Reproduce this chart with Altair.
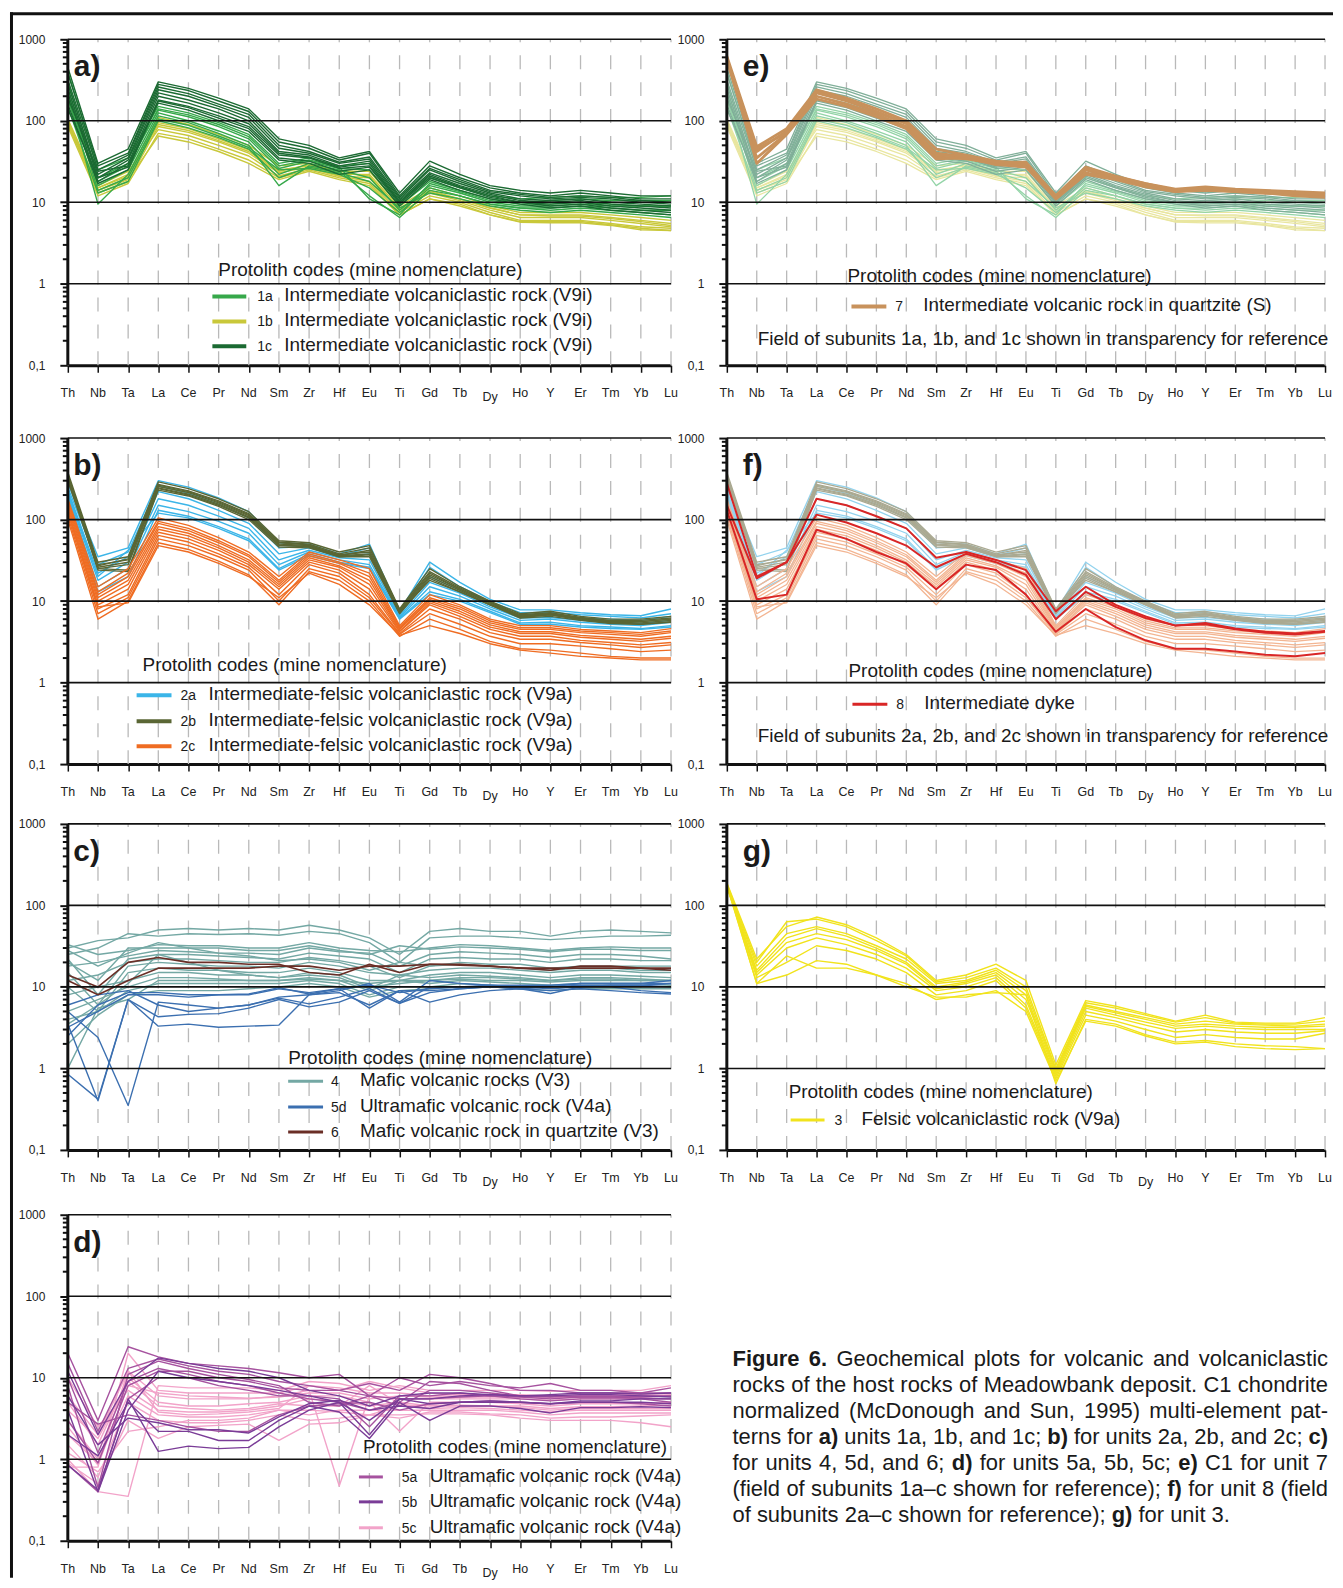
import altair as alt
import pandas as pd

FONT = "Liberation Sans, Arial, Helvetica, sans-serif"

ELEMENTS = ["Th", "Nb", "Ta", "La", "Ce", "Pr", "Nd", "Sm", "Zr", "Hf", "Eu",
            "Ti", "Gd", "Tb", "Dy", "Ho", "Y", "Er", "Tm", "Yb", "Lu"]

Y_TICKS = [0.1, 1, 10, 100, 1000]
MINOR = [0.2, 0.3, 0.4, 0.5, 0.6, 0.7, 0.8, 0.9,
         2, 3, 4, 5, 6, 7, 8, 9,
         20, 30, 40, 50, 60, 70, 80, 90,
         200, 300, 400, 500, 600, 700, 800, 900]
H_LINES = [1, 10, 100, 1000]

# ---------------- unit 1 (panel a, pale in e) ----------------
U1A = [
    [400, 25, 35, 150, 125, 95, 68, 30, 35, 28, 30, 10, 20, 15, 12, 11, 11.5, 12, 11.5, 11.5, 12],
    [300, 20, 30, 135, 112, 85, 60, 26, 32, 26, 25, 9, 18, 14, 11, 10, 10.5, 11, 10.5, 10.5, 10.5],
    [250, 16, 25, 125, 100, 75, 55, 22, 30, 25, 20, 8, 16, 13, 10, 9, 9, 9.5, 9, 9, 9],
    [200, 9.5, 22, 115, 95, 70, 50, 16, 28, 24, 12, 6.5, 14, 12, 9.5, 8.5, 8, 8.5, 8, 7.5, 7],
    [220, 14, 20, 105, 88, 65, 47, 25, 26, 22, 15, 7.5, 15, 12, 9.5, 8.5, 8.5, 9, 8.5, 8, 8],
    [180, 18, 28, 140, 118, 90, 64, 28, 33, 27, 11, 7, 17, 13.5, 10.5, 9.5, 9.5, 10, 9.5, 9, 9],
    [150, 13, 18, 100, 82, 62, 45, 20, 27, 23, 18, 8.5, 13, 11, 9, 8, 7.5, 8, 7.5, 7, 6.5],
]
U1B = [
    [100, 15, 22, 110, 90, 68, 50, 28, 30, 24, 24, 9, 15, 12, 9, 7.5, 7.5, 7.5, 7, 6.5, 6],
    [95, 14, 20, 95, 80, 60, 44, 25, 28, 22, 22, 8.5, 14, 11, 8.5, 7, 7, 7, 6.5, 6, 5.5],
    [90, 13, 18, 85, 72, 55, 40, 23, 27, 21, 20, 8, 13, 10.5, 8, 6.5, 6.5, 6.5, 6, 5.5, 5],
    [105, 16, 24, 78, 66, 50, 37, 21, 26, 21, 18, 7.5, 12, 10, 7.5, 6, 6, 6, 5.5, 5, 4.8],
    [85, 12, 17, 70, 60, 45, 33, 20, 25, 20, 17, 7, 11, 9.5, 7, 5.8, 5.8, 5.8, 5.3, 4.8, 4.5],
    [100, 14, 19, 65, 55, 42, 30, 19, 24, 19, 16, 7, 11, 9, 7, 5.7, 5.6, 5.6, 5.2, 4.6, 4.5],
    [92, 15, 21, 90, 76, 57, 42, 24, 29, 23, 21, 8, 13.5, 11, 8.5, 7, 6.8, 6.8, 6.3, 5.8, 5.2],
]
U1C = [
    [450, 30, 45, 300, 250, 190, 140, 60, 50, 35, 42, 13, 32, 22, 16, 14, 13, 14, 13, 12, 12],
    [380, 28, 40, 280, 235, 175, 130, 55, 46, 33, 40, 12, 28, 20, 15, 13, 12, 13, 12, 11, 11],
    [320, 25, 38, 260, 215, 160, 120, 50, 42, 31, 36, 11.5, 26, 19, 14, 12.5, 11.5, 12, 11.5, 10.5, 10],
    [280, 22, 35, 240, 200, 150, 110, 46, 40, 30, 34, 11, 25, 18, 13.5, 12, 11, 11.5, 11, 10, 9.5],
    [250, 20, 33, 220, 180, 140, 100, 42, 38, 28, 32, 10.5, 23, 17, 13, 11, 10.5, 11, 10, 9.5, 9],
    [220, 18, 30, 200, 165, 125, 92, 40, 36, 27, 30, 10, 22, 16, 12.5, 10.5, 10, 10.5, 9.5, 9, 8.5],
    [190, 24, 28, 180, 150, 115, 85, 38, 35, 26, 28, 10, 21, 15.5, 12, 10, 9.5, 10, 9, 8.5, 8],
    [160, 17, 25, 175, 145, 108, 80, 35, 32, 24, 27, 9.5, 20, 15, 11.5, 10, 9, 9.5, 8.5, 8, 7.5],
    [140, 20, 27, 165, 135, 100, 74, 33, 30, 22, 25, 9, 19, 14, 11, 9.5, 8.5, 9, 8, 7.5, 7],
]
# unit 7 (panel e)
U7 = [
    [620, 48, 80, 240, 190, 140, 100, 45, 38, 32, 30, 12, 27, 21, 17, 14.5, 15.5, 14.5, 14, 13.5, 13],
    [580, 42, 75, 220, 175, 130, 92, 40, 36, 31, 29, 11.5, 25, 20, 16.5, 14, 15, 14, 13.5, 13, 12.5],
    [550, 35, 70, 200, 160, 120, 85, 36, 34, 30, 28, 11, 23, 19.5, 16, 13.5, 14.5, 13.5, 13, 12.5, 12],
    [600, 30, 68, 185, 150, 112, 80, 34, 35, 29, 27, 11, 22, 19, 15.5, 13.5, 14, 13.5, 13, 12, 11.5],
    [570, 45, 72, 230, 180, 128, 95, 38, 37, 31, 31, 12, 26, 20.5, 17, 14, 15, 14, 13.5, 13, 12.5],
]
# ---------------- unit 2 (panel b, pale in f) ----------------
U2A = [
    [280, 35, 45, 300, 250, 185, 125, 52, 50, 38, 50, 7.5, 30, 17, 10.5, 7.8, 7.8, 7.2, 6.8, 6.6, 8],
    [250, 28, 40, 260, 210, 155, 105, 45, 47, 36, 45, 7, 26, 15, 9.8, 7.2, 7.3, 6.8, 6.5, 6.2, 7],
    [230, 22, 35, 220, 180, 130, 90, 38, 45, 35, 38, 6.8, 20, 13.5, 9, 6.8, 6.8, 6.2, 6, 5.8, 6.5],
    [210, 18, 30, 180, 150, 110, 78, 32, 42, 34, 32, 6.5, 17, 12.5, 8.5, 6.2, 6.3, 5.8, 5.5, 5.3, 5.8],
    [200, 15, 25, 150, 125, 95, 68, 28, 40, 32, 28, 6.3, 15, 11.5, 8, 5.8, 6, 5.5, 5.2, 5, 5.5],
    [190, 13, 20, 130, 110, 82, 58, 25, 38, 30, 26, 6.1, 13, 10.5, 7.5, 5.4, 5.5, 5, 4.8, 4.6, 5],
    [220, 20, 42, 120, 105, 78, 55, 24, 36, 29, 25, 6, 12, 10, 7.2, 5.2, 5.2, 4.8, 4.6, 4.5, 4.8],
]
U2B = [
    [380, 30, 35, 290, 240, 180, 125, 55, 52, 40, 48, 8, 25, 15, 10, 7, 7.5, 6.5, 6, 6, 6.5],
    [350, 28, 32, 270, 225, 170, 118, 53, 50, 38, 45, 7.8, 23, 14.5, 9.7, 6.8, 7.2, 6.3, 5.8, 5.8, 6.2],
    [330, 26, 30, 255, 215, 160, 112, 50, 48, 37, 40, 7.5, 21, 14, 9.5, 6.6, 7, 6.1, 5.6, 5.6, 6],
    [300, 25, 24, 240, 200, 150, 105, 48, 47, 36, 38, 7.3, 20, 13.5, 9.2, 6.4, 6.8, 6, 5.5, 5.4, 5.8],
    [320, 24, 23, 230, 195, 145, 100, 46, 45, 35, 35, 7, 19, 13, 9, 6.2, 6.5, 5.8, 5.3, 5.2, 5.6],
    [360, 27, 33, 265, 220, 165, 115, 52, 49, 36, 42, 7.6, 22, 14, 9.5, 6.5, 7, 6.2, 5.7, 5.6, 6],
    [340, 25, 28, 245, 205, 155, 108, 49, 46, 35, 37, 7.2, 18, 13, 9, 6.3, 6.8, 5.9, 5.4, 5.2, 5.5],
]
U2C = [
    [180, 15, 25, 105, 85, 60, 40, 20, 40, 32, 25, 5, 12, 9, 6, 5, 5, 4.5, 4.3, 4.1, 4.6],
    [170, 13, 22, 95, 78, 55, 37, 18, 38, 30, 22, 4.8, 11, 8.5, 5.7, 4.7, 4.7, 4.3, 4.1, 3.9, 4.3],
    [160, 12, 20, 90, 73, 52, 35, 17, 36, 29, 20, 4.6, 10.5, 8, 5.4, 4.5, 4.5, 4.1, 3.9, 3.7, 4.1],
    [150, 11, 18, 82, 68, 48, 32, 16, 34, 27, 18, 4.5, 10, 7.5, 5.1, 4.2, 4.2, 3.8, 3.6, 3.4, 3.7],
    [140, 10, 16, 76, 63, 45, 30, 15, 32, 26, 16, 4.3, 9.5, 7, 4.8, 4, 4, 3.6, 3.4, 3.2, 3.5],
    [130, 9, 14, 70, 58, 42, 28, 14, 30, 24, 14, 4.2, 9, 6.5, 4.5, 3.7, 3.7, 3.3, 3.1, 2.9, 3.1],
    [120, 8, 12, 64, 53, 38, 26, 12, 28, 22, 12, 4, 8, 6, 4.1, 3.4, 3.4, 3.1, 2.9, 2.7, 2.9],
    [110, 7, 11, 58, 48, 35, 24, 10, 25, 20, 11, 3.9, 7, 5.2, 3.7, 3, 3, 2.8, 2.6, 2.4, 2.5],
    [100, 6, 10, 52, 43, 31, 21, 9, 23, 18, 10, 3.7, 6, 4.5, 3.2, 2.6, 2.5, 2.3, 2.1, 2, 2],
    [125, 8.5, 9.5, 48, 40, 29, 20, 11, 22, 16, 9, 3.8, 5, 4, 3, 2.5, 2.3, 2.1, 2, 1.9, 1.9],
]
# unit 8 (panel f)
U8 = [
    [280, 20, 30, 180, 150, 110, 78, 34, 40, 32, 24, 7.5, 15, 9, 6.5, 5, 5.4, 4.6, 4.2, 4.0, 4.3],
    [150, 19, 30, 115, 92, 68, 48, 26, 38, 30, 21, 6, 13, 8.5, 6.2, 5, 5.2, 4.5, 4.1, 3.9, 4.2],
    [130, 10.5, 12, 75, 58, 40, 29, 14, 28, 24, 12, 4.2, 8, 4.8, 3.3, 2.6, 2.6, 2.4, 2.2, 2.1, 2.3],
]
# ---------------- panel c ----------------
U4 = [
    [30, 37, 40, 50, 52, 50, 52, 50, 57, 50, 40, 25, 48, 52, 48, 48, 42, 48, 50, 48, 46],
    [25, 30, 45, 42, 45, 44, 45, 43, 48, 45, 35, 20, 40, 42, 42, 40, 38, 40, 42, 42, 43],
    [33, 25, 28, 33, 32, 32, 30, 30, 35, 30, 28, 27, 30, 33, 32, 30, 28, 30, 31, 30, 30],
    [20, 12, 30, 30, 30, 30, 28, 28, 32, 28, 25, 32, 29, 31, 30, 29, 27, 29, 29, 28, 28],
    [18, 20, 24, 28, 27, 26, 26, 25, 30, 27, 26, 18, 25, 27, 26, 25, 23, 25, 25, 24, 22],
    [22, 8, 22, 25, 25, 24, 23, 22, 26, 24, 22, 15, 22, 23, 22, 22, 20, 22, 22, 21, 21],
    [12, 14, 20, 22, 22, 21, 20, 20, 23, 21, 18, 13, 18, 20, 19, 19, 17, 18, 18, 18, 18],
    [15, 6, 18, 20, 19, 18, 18, 17, 20, 18, 15, 14, 16, 17, 17, 16, 15, 16, 16, 15, 15],
    [10, 5, 15, 17, 16, 16, 15, 15, 17, 15, 12, 12, 14, 15, 15, 14, 13, 14, 14, 13.5, 13],
    [8, 10, 12, 15, 15, 14, 14, 13, 15, 14, 10, 11, 12, 13, 13, 12.5, 12, 12.5, 12.5, 12, 12],
    [5, 7, 10, 13, 13, 12.5, 12, 12, 13, 12, 9, 12, 11, 12, 11.5, 11, 10.5, 11, 11, 11, 10.5],
    [4, 5, 9, 11, 11, 11, 11, 11, 12, 11, 8, 10, 10, 11, 10.5, 10, 10, 10, 10, 10, 10],
    [3.5, 6, 11, 25, 20, 16, 14, 13, 14, 13, 9.5, 14, 13, 14, 13.5, 13, 12, 13, 13, 12.5, 12],
    [28, 18, 26, 35, 30, 26, 24, 21, 22, 20, 16, 20, 18, 19, 18, 17, 16, 17, 17, 16, 16],
    [2, 4.5, 8, 9, 9, 9, 9.5, 10, 11, 10, 7.5, 9, 9.5, 10, 10, 9.5, 9, 9.5, 9.5, 9.5, 9.5],
    [1, 5.5, 7, 12, 12, 12, 12, 12, 12.5, 12, 11, 12, 12, 12.5, 12, 12, 11.5, 12, 12, 12, 12],
]
U5D = [
    [5, 2.4, 0.35, 6.5, 6, 5.5, 6, 7.5, 8, 9, 11, 6.5, 12, 11, 10.5, 10, 10, 11, 11, 11, 12],
    [3.5, 0.4, 7, 3.3, 3.5, 3.2, 3.3, 3.4, 8, 8.5, 6, 9, 9, 9.5, 10, 9.5, 8.3, 10, 10, 9, 8.5],
    [0.85, 0.42, 7, 4.3, 4.6, 4.7, 5.5, 7, 5.7, 6.5, 9, 6.3, 10, 10, 10, 9.5, 10, 10.5, 10.5, 10.5, 10],
    [3.2, 5, 8, 8, 7.5, 8, 8, 9.5, 8.5, 9.5, 5.5, 9, 6.5, 8, 9, 9.5, 9, 9.5, 9, 8.5, 8.2],
    [6, 8, 9, 6, 5, 5.5, 6, 7.3, 6.2, 7.5, 9.5, 6.3, 8.5, 9.5, 10, 10, 9.5, 10, 10.5, 10.5, 11],
    [2.5, 6, 8.5, 8.5, 8, 8, 8.2, 9.8, 8.2, 9.5, 10.5, 8.5, 9.5, 10, 10.5, 10.5, 10.5, 11, 11, 11, 11],
]
U6 = [
    [14, 10, 20, 23, 20, 20, 19, 19, 15, 14, 19, 15, 19, 19, 18, 17, 16, 18, 18, 17, 17],
    [12, 8, 12, 17, 17, 17, 17, 18, 18, 16, 18, 18, 19, 18.5, 18, 17, 17, 17, 17, 17, 16],
]
# ---------------- panel g ----------------
U3 = [
    [190, 22, 55, 72, 58, 40, 25, 12, 14, 19, 12, 1.1, 6.8, 5.8, 4.7, 3.8, 4.5, 3.7, 3.6, 3.6, 4.2],
    [185, 20, 63, 68, 55, 37, 24, 11.5, 13, 17, 10, 1.0, 6.4, 5.5, 4.5, 3.7, 4.2, 3.6, 3.5, 3.5, 3.8],
    [180, 18, 45, 55, 45, 32, 22, 11, 12, 16, 9, 0.95, 6, 5, 4.2, 3.5, 3.8, 3.5, 3.4, 3.3, 3.5],
    [175, 16, 40, 52, 42, 30, 20, 10, 11.5, 15, 8, 0.9, 5.8, 4.8, 4, 3.3, 3.5, 3.3, 3.2, 3.2, 3.3],
    [180, 15, 35, 45, 38, 28, 19, 9.5, 11, 14, 7, 0.85, 5.5, 4.5, 3.7, 3.1, 3.3, 3.1, 3, 3, 3],
    [170, 14, 30, 40, 33, 25, 17, 9, 10, 13, 6, 0.8, 5, 4.2, 3.4, 2.8, 3, 2.8, 2.7, 2.7, 2.9],
    [178, 13, 20, 32, 28, 22, 15, 8, 9, 12, 5.5, 0.75, 4.5, 3.8, 3, 2.4, 2.6, 2.4, 2.3, 2.3, 2.7],
    [175, 11, 14, 21, 19, 14, 11, 7, 8, 8.5, 8, 0.65, 4, 3.5, 2.6, 2.1, 2.2, 2.0, 1.9, 1.85, 1.75],
    [182, 11, 24, 17, 17, 14, 10, 7.5, 7.5, 9, 5, 0.7, 3.8, 3.3, 2.5, 2, 2.1, 1.85, 1.75, 1.7, 1.75],
]
# ---------------- panel d ----------------
U5A = [
    [20, 3, 24, 18, 15, 14, 13, 11.5, 10, 11, 6, 10, 8, 9, 8, 7.5, 8.5, 7, 7, 6.5, 7.5],
    [15, 2.2, 13, 17, 14, 12, 11, 9, 8, 7, 8.5, 7, 11, 10, 8.5, 7, 7, 6.5, 6.5, 6.5, 6.5],
    [10, 1.2, 9, 13, 11, 9, 8, 6.5, 5.5, 5, 4, 5, 9, 8.5, 7, 6, 6, 5.8, 5.8, 5.6, 5.5],
    [0.85, 0.4, 5.5, 10, 10, 8, 7, 6, 6, 5.5, 2.5, 6, 6, 6.5, 6, 5.5, 5.2, 5.5, 5.5, 5.5, 5],
    [8, 0.45, 11, 16, 13, 11, 9.5, 8, 5, 4.5, 6, 4.5, 7, 7, 6.5, 6, 5.8, 6, 6, 5.8, 6],
    [5, 2.7, 3.5, 3, 2.5, 2.2, 2.2, 3.5, 4.5, 4.8, 5, 4, 4.8, 5, 5.2, 5, 4.8, 5, 5, 4.8, 4.5],
    [3, 0.9, 8, 12, 12, 10, 9, 7.5, 7, 7, 6, 5.5, 5.5, 5.8, 6, 5.8, 5.5, 5.8, 5.8, 6, 6],
]
U5B = [
    [0.85, 0.42, 5.5, 1.25, 1.45, 1.35, 1.4, 2.5, 4, 5, 2.0, 5.5, 4.8, 5, 5.2, 5, 4.8, 5, 5, 5, 4.8],
    [2, 1.1, 5, 2.2, 2.2, 1.7, 1.7, 3, 4.5, 3.8, 1.8, 5, 3, 4.5, 4.5, 4.2, 3.7, 4.3, 4.3, 4.4, 4.3],
    [4, 0.4, 4, 12, 10, 9, 8, 7, 6, 5, 3, 5.5, 5.5, 6, 6.2, 6, 6, 6.2, 6.2, 6, 5.8],
    [12, 2, 9, 17.5, 15, 13, 12, 10, 7, 6, 4.5, 6, 6.5, 6.5, 6.2, 6, 6.2, 6.5, 6.5, 6.3, 6.5],
    [6, 1.5, 3.2, 2.8, 2.3, 2.3, 2.1, 3.3, 4.8, 5.3, 4, 4.5, 4.2, 5, 5, 5, 4.8, 5.2, 5.2, 5.5, 5.5],
]
U5C = [
    [1, 0.4, 0.35, 8, 7.5, 7.5, 7.5, 7, 9, 8.5, 7, 8, 7, 7, 7, 7, 6.8, 7, 7, 7, 8],
    [0.8, 0.8, 20, 7, 6.5, 6.5, 6.5, 6.5, 8, 7.5, 6.5, 6.5, 6, 6, 6.2, 6.2, 6, 6.2, 6.2, 6.2, 6.5],
    [2, 0.9, 12, 6, 5.5, 5.5, 5.5, 6, 7, 0.47, 6, 5.5, 5.5, 5.5, 5.5, 5.5, 5.3, 5.5, 5.5, 5.5, 5.5],
    [5, 1.5, 10, 5, 4.5, 4.5, 4.8, 5, 6, 6, 5, 2.2, 5, 5, 5, 4.8, 4.5, 4.8, 4.8, 4.8, 5],
    [10, 2.5, 7, 4, 3.8, 3.8, 4, 4.5, 5.5, 5.2, 4.5, 5, 4.5, 4.5, 4.5, 4.3, 4, 4.2, 4.2, 4.2, 4.2],
    [3, 1, 6, 3.5, 3.3, 3.3, 3.5, 4, 3.5, 4, 4, 4, 4, 4, 4, 3.8, 3.5, 3.7, 3.7, 3.7, 3.7],
    [1.5, 0.6, 5, 3, 2.8, 2.8, 3, 3.5, 3, 3.2, 3.5, 3.5, 3.6, 3.6, 3.5, 3.2, 3, 3, 3, 2.8, 2.5],
    [0.9, 0.5, 3, 1.8, 2.5, 2.6, 2.7, 1.7, 2.7, 2.8, 3.5, 3.2, 3.8, 3.8, 3.6, 3.5, 3.2, 3.3, 3.3, 3.4, 3.5],
    [2.5, 0.85, 8, 6.5, 6, 5.8, 5.6, 5.8, 6.5, 6.5, 5.5, 6, 5.8, 5.8, 5.8, 5.8, 5.6, 5.8, 5.8, 5.8, 6],
    [4, 1.8, 9, 4.5, 4.2, 4, 4.2, 4.8, 4.5, 4.5, 8, 4.8, 4.2, 4.3, 4.2, 4, 3.8, 4, 4, 4, 4],
    [1.2, 0.7, 2.2, 2.5, 3, 3, 3.2, 4, 4, 3.8, 3.5, 4.5, 4.6, 4.6, 4.5, 4.5, 4.2, 4.4, 4.4, 4.5, 4.6],
    [6, 2, 12, 3.8, 3.5, 3.6, 3.8, 4.2, 8, 7, 9, 7.5, 6.5, 6.2, 6.2, 6, 5.8, 6, 6, 6, 6.2],
]

# colours
C1A, C1B, C1C = "#36a84a", "#c9c83a", "#1b6a32"
P1A, P1B, P1C = "#93d4a7", "#e9e6a0", "#80af99"
C7 = "#c8925c"
C2A, C2B, C2C = "#3bb5e8", "#5a6634", "#ef6c22"
P2A, P2B, P2C = "#93d3ee", "#aaa991", "#f3b592"
C8 = "#d92626"
C4, C5D, C6 = "#74a8a4", "#3b6fb0", "#6a2e26"
C3 = "#f1e31c"
C5A, C5B, C5C = "#a6529f", "#7a3c97", "#f2a3c9"

HEAD = "Protolith codes (mine nomenclature)"
ONE = alt.Data(values=[{"k": 0}])
INK = "#1a1a1a"
PLOT_H = 327
DECADE = 81.75


def long_form(rows, tag):
    recs = []
    for si, row in enumerate(rows):
        for i, (el, v) in enumerate(zip(ELEMENTS, row)):
            recs.append({"s": f"{tag}{si}", "el": el, "i": i, "v": v})
    return pd.DataFrame(recs)


def txt(s, x, y, size, bold=False, align="left", baseline="alphabetic"):
    return alt.Chart(ONE).mark_text(
        text=s, align=align, baseline=baseline, fontSize=size, font=FONT,
        fontWeight="bold" if bold else "normal", color=INK
    ).encode(x=alt.value(x), y=alt.value(y))


def hseg(x1, x2, y, color, w):
    return alt.Chart(ONE).mark_rule(color=color, strokeWidth=w).encode(
        x=alt.value(x1), x2=alt.value(x2), y=alt.value(y))


def vseg(x, y1, y2, color, w):
    return alt.Chart(ONE).mark_rule(color=color, strokeWidth=w).encode(
        x=alt.value(x), y=alt.value(y1), y2=alt.value(y2))


def panel(label, label_x, ext, width, groups, legend, note=None, border=False):
    top_val = 1000 * 10 ** (ext / DECADE)
    yscale = alt.Scale(type="log", domain=[0.1, top_val], nice=False)
    xscale = alt.Scale(type="point", domain=ELEMENTS, padding=0)
    xaxis = alt.Axis(labels=False, title=None, ticks=True, tickSize=7, tickWidth=1.5,
                     tickColor="#111", domainColor="#111", domainWidth=3, grid=False)
    yaxis = alt.Axis(values=Y_TICKS, title=None, domain=False, grid=False,
                     labelExpr="datum.value < 0.5 ? '0,1' : format(datum.value, 'd')",
                     tickSize=8, tickWidth=2, tickColor="#111", labelFontSize=12,
                     labelFont=FONT, labelColor="#222", labelPadding=15)

    def X(f):
        return alt.X(f, type="nominal", scale=xscale, sort=ELEMENTS, axis=xaxis)

    def Y(f):
        return alt.Y(f, type="quantitative", scale=yscale, axis=yaxis)

    layers = []
    vd = pd.DataFrame({"el": ELEMENTS, "lo": 0.1, "hi": 1000})
    layers.append(alt.Chart(vd).mark_rule(color="#b9b9b9", strokeWidth=1.3, strokeDash=[14, 13])
                  .encode(x=X("el"), y=Y("lo"), y2=alt.Y2("hi")))
    for rows, color, w, tag in groups:
        df = long_form(rows, tag)
        layers.append(alt.Chart(df).mark_line(color=color, strokeWidth=w, strokeJoin="round")
                      .encode(x=X("el"), y=Y("v"), detail=alt.Detail("s:N"), order=alt.Order("i:Q")))
    layers.append(alt.Chart(pd.DataFrame({"v": H_LINES})).mark_rule(color="#111", strokeWidth=1.6)
                  .encode(x=alt.value(0), x2=alt.value(width), y=Y("v")))
    layers.append(alt.Chart(pd.DataFrame({"v": MINOR})).mark_rule(color="#111", strokeWidth=2)
                  .encode(x=alt.value(-5), x2=alt.value(0), y=Y("v")))
    layers.append(alt.Chart(pd.DataFrame({"lo": [0.1], "hi": [1000]})).mark_rule(color="#111", strokeWidth=3)
                  .encode(x=alt.value(0), y=Y("lo"), y2=alt.Y2("hi")))
    base = PLOT_H + ext
    xl = pd.DataFrame({"el": [e for e in ELEMENTS if e != "Dy"]})
    layers.append(alt.Chart(xl).mark_text(font=FONT, fontSize=12.5, color="#222", baseline="middle")
                  .encode(x=X("el"), y=alt.value(base + 28), text="el:N"))
    layers.append(alt.Chart(pd.DataFrame({"el": ["Dy"]})).mark_text(font=FONT, fontSize=12.5, color="#222",
                                                                    baseline="middle")
                  .encode(x=X("el"), y=alt.value(base + 32), text="el:N"))

    # legend
    hx, hy = legend["head"]
    layers.append(txt(HEAD, hx, hy + ext, 19))
    lx1, lx2, lw = legend["line"]
    for color, code, desc, by in legend["rows"]:
        layers.append(hseg(lx1, lx2, by + ext - 5, color, lw))
        layers.append(txt(code, legend["code_x"], by + ext, 14))
        layers.append(txt(desc, legend["desc_x"], by + ext, 19))
    if note:
        layers.append(txt(note[0], note[1], note[2] + ext, 19))
    layers.append(txt(label, label_x, 37 + ext, 30, bold=True))
    if border:
        layers.append(hseg(-58, 1269, -25.5, "#111", 3))
        layers.append(vseg(-56.5, -27, 1543, "#111", 3))
    return alt.layer(*layers).properties(width=width, height=PLOT_H + ext)


LW = 605
RW = 600

A = panel("a)", 6, 0, LW,
          [(U1B, C1B, 1.4, "b"), (U1A, C1A, 1.4, "a"), (U1C, C1C, 1.4, "c")],
          {"head": (151, 237), "line": (145, 179, 4), "code_x": 190, "desc_x": 217,
           "rows": [(C1A, "1a", "Intermediate volcaniclastic rock (V9i)", 263),
                    (C1B, "1b", "Intermediate volcaniclastic rock (V9i)", 288),
                    (C1C, "1c", "Intermediate volcaniclastic rock (V9i)", 313)]},
          border=True)

E = panel("e)", 16, 0, RW,
          [(U1B, P1B, 1.3, "b"), (U1A, P1A, 1.3, "a"), (U1C, P1C, 1.3, "c"), (U7, C7, 2.8, "s")],
          {"head": (121, 243), "line": (125, 160, 4), "code_x": 169, "desc_x": 197,
           "rows": [(C7, "7", "Intermediate volcanic rock in quartzite (S)", 273)]},
          note=("Field of subunits 1a, 1b, and 1c shown in transparency for reference", 31, 307))

B = panel("b)", 5.5, 13, LW,
          [(U2A, C2A, 1.4, "a"), (U2B, C2B, 1.4, "b"), (U2C, C2C, 1.4, "c")],
          {"head": (75, 234), "line": (69, 104, 4), "code_x": 113, "desc_x": 141,
           "rows": [(C2A, "2a", "Intermediate-felsic volcaniclastic rock (V9a)", 263),
                    (C2B, "2b", "Intermediate-felsic volcaniclastic rock (V9a)", 289),
                    (C2C, "2c", "Intermediate-felsic volcaniclastic rock (V9a)", 314)]})

F = panel("f)", 16, 13, RW,
          [(U2A, P2A, 1.3, "a"), (U2B, P2B, 1.3, "b"), (U2C, P2C, 1.3, "c"), (U8, C8, 2, "d")],
          {"head": (122, 240), "line": (126, 161, 3), "code_x": 170, "desc_x": 198,
           "rows": [(C8, "8", "Intermediate dyke", 272)]},
          note=("Field of subunits 2a, 2b, and 2c shown in transparency for reference", 31, 305))

C = panel("c)", 5.5, 0, LW,
          [(U4, C4, 1.4, "m"), (U5D, C5D, 1.4, "u"), (U6, C6, 1.6, "q")],
          {"head": (221, 241), "line": (221, 256, 3), "code_x": 264, "desc_x": 293,
           "rows": [(C4, "4", "Mafic volcanic rocks (V3)", 263),
                    (C5D, "5d", "Ultramafic volcanic rock (V4a)", 289),
                    (C6, "6", "Mafic volcanic rock in quartzite (V3)", 314)]})

G = panel("g)", 16, 0, RW,
          [(U3, C3, 1.4, "f")],
          {"head": (62, 275), "line": (64, 98, 3), "code_x": 108, "desc_x": 135,
           "rows": [(C3, "3", "Felsic volcaniclastic rock (V9a)", 302)]})

D = panel("d)", 5.5, 5, LW,
          [(U5C, C5C, 1.4, "c"), (U5A, C5A, 1.4, "a"), (U5B, C5B, 1.4, "b")],
          {"head": (296, 239), "line": (292, 316, 3), "code_x": 335, "desc_x": 363,
           "rows": [(C5A, "5a", "Ultramafic volcanic rock (V4a)", 268),
                    (C5B, "5b", "Ultramafic volcanic rock (V4a)", 293),
                    (C5C, "5c", "Ultramafic volcanic rock (V4a)", 319)]})

# ---------------- caption ----------------
CAPTION_LINES = [
    "*Figure *6. Geochemical plots for volcanic and volcaniclastic",
    "rocks of the host rocks of Meadowbank deposit. C1 chondrite",
    "normalized (McDonough and Sun, 1995) multi-element pat-",
    "terns for *a) units 1a, 1b, and 1c; *b) for units 2a, 2b, and 2c; *c)",
    "for units 4, 5d, and 6; *d) for units 5a, 5b, 5c; *e) C1 for unit 7",
    "(field of subunits 1a–c shown for reference); *f) for unit 8 (field",
    "of subunits 2a–c shown for reference); *g) for unit 3.",
]
REG = dict(zip("abcdefghijklmnopqrstuvwxyz",
               [556, 556, 500, 556, 556, 278, 556, 556, 222, 222, 500, 222, 833,
                556, 556, 556, 556, 333, 500, 278, 556, 500, 722, 500, 500, 500]))
REG.update(dict(zip("ABCDEFGHIJKLMNOPQRSTUVWXYZ",
                    [667, 667, 722, 722, 667, 611, 778, 722, 278, 500, 667, 556, 833,
                     722, 778, 667, 778, 722, 667, 611, 722, 667, 944, 667, 667, 611])))
REG.update({" ": 278, ",": 278, ".": 278, ";": 278, ":": 278, "(": 333, ")": 333, "-": 333, "–": 556})
BOLD = dict(zip("abcdefghijklmnopqrstuvwxyz",
                [556, 611, 556, 611, 556, 333, 611, 611, 278, 278, 556, 278, 889,
                 611, 611, 611, 611, 389, 556, 333, 611, 556, 778, 556, 556, 500]))
BOLD.update({"F": 611, ".": 278, ")": 333, "(": 333, " ": 278})
CAP_SIZE = 22
CAP_X0, CAP_X1 = 5.7, 603
CAP_Y0, CAP_DY = 156.7, 26.1


def word_width(w, bold):
    table = BOLD if bold else REG
    return sum(table.get(ch, 556) for ch in w) * CAP_SIZE / 1000.0


cap_recs = []
for li, line in enumerate(CAPTION_LINES):
    toks = []
    for t in line.split():
        b = t.startswith("*")
        toks.append((t.lstrip("*"), b))
    widths = [word_width(t, b) for t, b in toks]
    if li < len(CAPTION_LINES) - 1:
        gap = (CAP_X1 - CAP_X0 - sum(widths)) / (len(toks) - 1)
    else:
        gap = 0.278 * CAP_SIZE
    x = CAP_X0
    for (t, b), w in zip(toks, widths):
        cap_recs.append({"x": x, "y": CAP_Y0 + li * CAP_DY, "t": t, "b": "bold" if b else "normal"})
        x += w + gap
cap_df = pd.DataFrame(cap_recs)

cap_layers = []
for weight in ["normal", "bold"]:
    cap_layers.append(
        alt.Chart(cap_df[cap_df["b"] == weight]).mark_text(
            align="left", baseline="alphabetic", fontSize=CAP_SIZE, font=FONT,
            fontWeight=weight, color=INK
        ).encode(x=alt.X("x:Q", scale=None, axis=None), y=alt.Y("y:Q", scale=None, axis=None), text="t:N")
    )
CAP = alt.layer(*cap_layers).properties(width=RW, height=PLOT_H + 5)

chart = alt.ConcatChart(
    concat=[A, E, B, F, C, G, D, CAP],
    columns=2,
    spacing={"row": 60, "column": 56},
    bounds="flush",
).properties(padding=0, background="white").configure(
    font=FONT,
    view=alt.ViewConfig(strokeWidth=0, stroke="transparent"),
)

chart.save("out.html", embed_options={"renderer": "svg", "actions": False})
